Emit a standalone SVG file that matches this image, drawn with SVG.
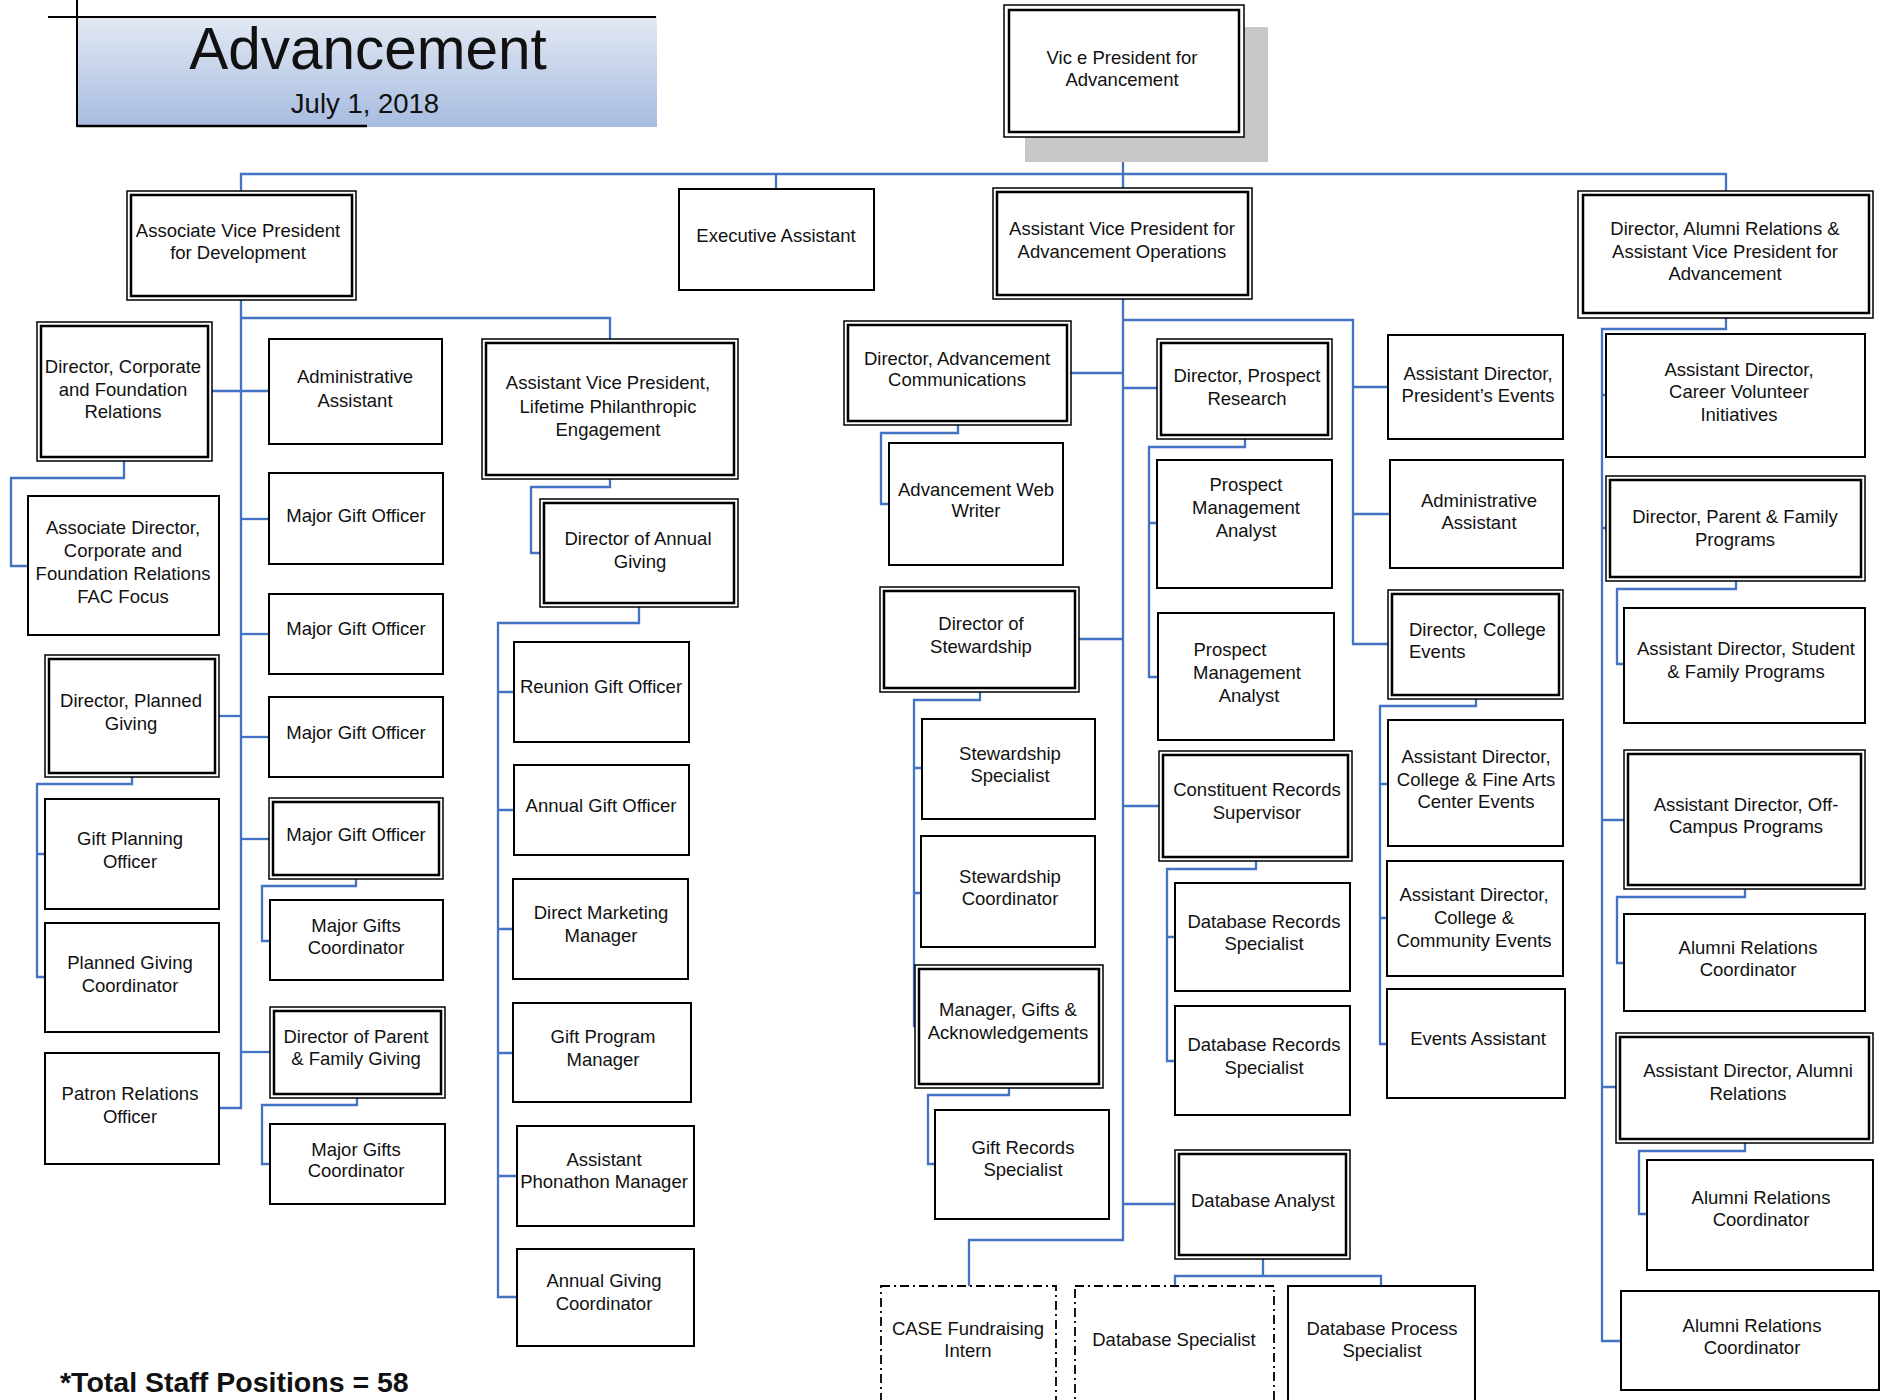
<svg xmlns="http://www.w3.org/2000/svg" width="1887" height="1400" viewBox="0 0 1887 1400">
<defs>
<linearGradient id="tg" x1="0" y1="0" x2="0" y2="1">
<stop offset="0" stop-color="#e3e9f4"/>
<stop offset="1" stop-color="#a7bce0"/>
</linearGradient>
</defs>
<style>
.b{fill:#fff;stroke:#000;stroke-width:2}
.o{fill:#fff;stroke:#000;stroke-width:1.5}
.i{fill:none;stroke:#000;stroke-width:2.5}
.d{fill:#fff;stroke:#000;stroke-width:1.8;stroke-dasharray:9 4 2 4}
.c path{fill:none;stroke:#4472c4;stroke-width:2.3}
text{font-family:"Liberation Sans",Arial,sans-serif;font-size:18.5px;fill:#111;text-anchor:middle}
.s{text-anchor:start}
</style>
<rect width="1887" height="1400" fill="#fff"/>
<g id="title">
<rect x="77" y="17" width="580" height="110" fill="url(#tg)"/>
<line x1="48" y1="17" x2="656" y2="17" stroke="#000" stroke-width="2"/>
<line x1="77" y1="0" x2="77" y2="127" stroke="#000" stroke-width="2"/>
<line x1="77" y1="126" x2="367" y2="126" stroke="#000" stroke-width="2.5"/>
<text x="368" y="69" style="font-size:58.5px">Advancement</text>
<text x="365" y="113" style="font-size:27.5px">July 1, 2018</text>
</g>
<g class="c" id="connectors">
<path d="M1123,137V174"/>
<path d="M241,191V174H1726V191"/>
<path d="M776,174V189"/>
<path d="M1123,174V188"/>
<path d="M241,300V1108H219"/>
<path d="M241,318H610V339"/>
<path d="M212,391H269"/>
<path d="M241,519H269"/>
<path d="M241,634H269"/>
<path d="M219,716H241"/>
<path d="M241,737H269"/>
<path d="M241,839H269"/>
<path d="M241,1052H270"/>
<path d="M124,461V478H11V566H28"/>
<path d="M132,777V784H37V977H45M37,854H45"/>
<path d="M356,879V886H262V941H270"/>
<path d="M357,1098V1105H262V1164H270"/>
<path d="M610,479V487H531V553H540"/>
<path d="M639,607V623H498V1297H517M498,692H514M498,810H514M498,929H513M498,1053H513M498,1176H517"/>
<path d="M1123,299V1240H969V1286"/>
<path d="M1123,320H1353V644H1388M1353,387H1388M1353,514H1390"/>
<path d="M1071,373H1123"/>
<path d="M1123,388H1157"/>
<path d="M1079,639H1123"/>
<path d="M1123,806H1159"/>
<path d="M1123,1204H1175"/>
<path d="M958,425V433H881V504H889"/>
<path d="M980,692V700H914V1026H915M914,768H922M914,893H921"/>
<path d="M1009,1088V1095H928V1164H935"/>
<path d="M1245,439V447H1149V677H1158M1149,523H1157"/>
<path d="M1256,861V869H1167V1061H1175M1167,937H1175"/>
<path d="M1263,1259V1276M1175,1286V1276H1381V1286"/>
<path d="M1476,699V706H1380V1044H1387M1380,784H1388M1380,918H1387"/>
<path d="M1726,318V329H1602V1341H1621M1602,395H1606M1602,528H1606M1602,820H1624M1602,1087H1616"/>
<path d="M1736,581V589H1617V664H1624"/>
<path d="M1745,889V897H1617V963H1624"/>
<path d="M1745,1143V1151H1639V1214H1647"/>
</g>
<g id="vp">
<rect x="1025" y="27" width="243" height="135" fill="#c8c8c8"/>
<rect class="o" x="1004" y="5" width="240" height="132"/>
<rect class="i" x="1009" y="10" width="230" height="122"/>
<text x="1122" y="64">Vic e President for</text>
<text x="1122" y="86">Advancement</text>
</g>
<g id="avp_dev">
<rect class="o" x="127" y="191" width="229" height="109"/>
<rect class="i" x="131" y="195" width="221" height="101"/>
<text x="238" y="237">Associate Vice President</text>
<text x="238" y="259">for Development</text>
</g>
<g id="exec_asst">
<rect class="b" x="679" y="189" width="195" height="101"/>
<text x="776" y="242">Executive Assistant</text>
</g>
<g id="avp_ops">
<rect class="o" x="993" y="188" width="259" height="111"/>
<rect class="i" x="997" y="192" width="251" height="103"/>
<text x="1122" y="235">Assistant Vice President for</text>
<text x="1122" y="258">Advancement Operations</text>
</g>
<g id="dir_alumni">
<rect class="o" x="1578" y="191" width="295" height="127"/>
<rect class="i" x="1583" y="195" width="286" height="118"/>
<text x="1725" y="235">Director, Alumni Relations &amp;</text>
<text x="1725" y="258">Assistant Vice President for</text>
<text x="1725" y="280">Advancement</text>
</g>
<g id="dir_corp">
<rect class="o" x="37" y="322" width="175" height="139"/>
<rect class="i" x="41" y="326" width="167" height="131"/>
<text x="123" y="373">Director, Corporate</text>
<text x="123" y="396">and Foundation</text>
<text x="123" y="418">Relations</text>
</g>
<g id="assoc_dir">
<rect class="b" x="28" y="496" width="191" height="139"/>
<text x="123" y="534">Associate Director,</text>
<text x="123" y="557">Corporate and</text>
<text x="123" y="580">Foundation Relations</text>
<text x="123" y="603">FAC Focus</text>
</g>
<g id="admin_dev">
<rect class="b" x="269" y="339" width="173" height="105"/>
<text x="355" y="383">Administrative</text>
<text x="355" y="407">Assistant</text>
</g>
<g id="mgo1">
<rect class="b" x="269" y="473" width="174" height="91"/>
<text x="356" y="522">Major Gift Officer</text>
</g>
<g id="mgo2">
<rect class="b" x="269" y="594" width="174" height="80"/>
<text x="356" y="635">Major Gift Officer</text>
</g>
<g id="mgo3">
<rect class="b" x="269" y="697" width="174" height="80"/>
<text x="356" y="739">Major Gift Officer</text>
</g>
<g id="dir_planned">
<rect class="o" x="45" y="655" width="174" height="122"/>
<rect class="i" x="49" y="659" width="166" height="114"/>
<text x="131" y="707">Director, Planned</text>
<text x="131" y="730">Giving</text>
</g>
<g id="gift_planning">
<rect class="b" x="45" y="799" width="174" height="110"/>
<text x="130" y="845">Gift Planning</text>
<text x="130" y="868">Officer</text>
</g>
<g id="pg_coord">
<rect class="b" x="45" y="923" width="174" height="109"/>
<text x="130" y="969">Planned Giving</text>
<text x="130" y="992">Coordinator</text>
</g>
<g id="patron">
<rect class="b" x="45" y="1053" width="174" height="111"/>
<text x="130" y="1100">Patron Relations</text>
<text x="130" y="1123">Officer</text>
</g>
<g id="mgo4">
<rect class="o" x="269" y="798" width="174" height="81"/>
<rect class="i" x="273" y="802" width="166" height="73"/>
<text x="356" y="841">Major Gift Officer</text>
</g>
<g id="mgc1">
<rect class="b" x="270" y="900" width="173" height="80"/>
<text x="356" y="932">Major Gifts</text>
<text x="356" y="954">Coordinator</text>
</g>
<g id="dir_parent_giving">
<rect class="o" x="270" y="1007" width="175" height="91"/>
<rect class="i" x="274" y="1011" width="167" height="83"/>
<text x="356" y="1043">Director of Parent</text>
<text x="356" y="1065">&amp; Family Giving</text>
</g>
<g id="mgc2">
<rect class="b" x="270" y="1124" width="175" height="80"/>
<text x="356" y="1156">Major Gifts</text>
<text x="356" y="1177">Coordinator</text>
</g>
<g id="avp_lifetime">
<rect class="o" x="482" y="339" width="256" height="140"/>
<rect class="i" x="486" y="343" width="248" height="132"/>
<text x="608" y="389">Assistant Vice President,</text>
<text x="608" y="413">Lifetime Philanthropic</text>
<text x="608" y="436">Engagement</text>
</g>
<g id="dir_annual">
<rect class="o" x="540" y="499" width="198" height="108"/>
<rect class="i" x="544" y="503" width="190" height="100"/>
<text x="638" y="545">Director of Annual</text>
<text x="640" y="568">Giving</text>
</g>
<g id="reunion">
<rect class="b" x="514" y="642" width="175" height="100"/>
<text x="601" y="693">Reunion Gift Officer</text>
</g>
<g id="annual_gift">
<rect class="b" x="514" y="765" width="175" height="90"/>
<text x="601" y="812">Annual Gift Officer</text>
</g>
<g id="direct_mkt">
<rect class="b" x="513" y="879" width="175" height="100"/>
<text x="601" y="919">Direct Marketing</text>
<text x="601" y="942">Manager</text>
</g>
<g id="gift_prog">
<rect class="b" x="513" y="1003" width="178" height="99"/>
<text x="603" y="1043">Gift Program</text>
<text x="603" y="1066">Manager</text>
</g>
<g id="phonathon">
<rect class="b" x="517" y="1126" width="177" height="100"/>
<text x="604" y="1166">Assistant</text>
<text x="604" y="1188">Phonathon Manager</text>
</g>
<g id="ag_coord">
<rect class="b" x="517" y="1249" width="177" height="97"/>
<text x="604" y="1287">Annual Giving</text>
<text x="604" y="1310">Coordinator</text>
</g>
<g id="dir_adv_comm">
<rect class="o" x="844" y="321" width="227" height="104"/>
<rect class="i" x="848" y="325" width="219" height="96"/>
<text x="957" y="365">Director, Advancement</text>
<text x="957" y="386">Communications</text>
</g>
<g id="web_writer">
<rect class="b" x="889" y="443" width="174" height="122"/>
<text x="976" y="496">Advancement Web</text>
<text x="976" y="517">Writer</text>
</g>
<g id="dir_stew">
<rect class="o" x="880" y="587" width="199" height="105"/>
<rect class="i" x="884" y="591" width="191" height="97"/>
<text x="981" y="630">Director of</text>
<text x="981" y="653">Stewardship</text>
</g>
<g id="stew_spec">
<rect class="b" x="922" y="719" width="173" height="100"/>
<text x="1010" y="760">Stewardship</text>
<text x="1010" y="782">Specialist</text>
</g>
<g id="stew_coord">
<rect class="b" x="921" y="836" width="174" height="111"/>
<text x="1010" y="883">Stewardship</text>
<text x="1010" y="905">Coordinator</text>
</g>
<g id="mgr_gifts">
<rect class="o" x="915" y="965" width="188" height="123"/>
<rect class="i" x="919" y="969" width="180" height="115"/>
<text x="1008" y="1016">Manager, Gifts &amp;</text>
<text x="1008" y="1039">Acknowledgements</text>
</g>
<g id="gift_records">
<rect class="b" x="935" y="1110" width="174" height="109"/>
<text x="1023" y="1154">Gift Records</text>
<text x="1023" y="1176">Specialist</text>
</g>
<g id="case_intern">
<rect class="d" x="881" y="1286" width="175" height="130"/>
<text x="968" y="1335">CASE Fundraising</text>
<text x="968" y="1357">Intern</text>
</g>
<g id="dir_prospect">
<rect class="o" x="1157" y="339" width="175" height="100"/>
<rect class="i" x="1161" y="343" width="167" height="92"/>
<text x="1247" y="382">Director, Prospect</text>
<text x="1247" y="405">Research</text>
</g>
<g id="pma1">
<rect class="b" x="1157" y="460" width="175" height="128"/>
<text x="1246" y="491">Prospect</text>
<text x="1246" y="514">Management</text>
<text x="1246" y="537">Analyst</text>
</g>
<g id="pma2">
<rect class="b" x="1158" y="613" width="176" height="127"/>
<text x="1230" y="656">Prospect</text>
<text x="1247" y="679">Management</text>
<text x="1249" y="702">Analyst</text>
</g>
<g id="crs">
<rect class="o" x="1159" y="751" width="193" height="110"/>
<rect class="i" x="1163" y="755" width="185" height="102"/>
<text x="1257" y="796">Constituent Records</text>
<text x="1257" y="819">Supervisor</text>
</g>
<g id="dbrs1">
<rect class="b" x="1175" y="883" width="175" height="108"/>
<text x="1264" y="928">Database Records</text>
<text x="1264" y="950">Specialist</text>
</g>
<g id="dbrs2">
<rect class="b" x="1175" y="1006" width="175" height="109"/>
<text x="1264" y="1051">Database Records</text>
<text x="1264" y="1074">Specialist</text>
</g>
<g id="db_analyst">
<rect class="o" x="1175" y="1150" width="175" height="109"/>
<rect class="i" x="1179" y="1154" width="167" height="101"/>
<text x="1263" y="1207">Database Analyst</text>
</g>
<g id="db_spec">
<rect class="d" x="1075" y="1286" width="199" height="130"/>
<text x="1174" y="1346">Database Specialist</text>
</g>
<g id="db_process">
<rect class="b" x="1288" y="1286" width="187" height="130"/>
<text x="1382" y="1335">Database Process</text>
<text x="1382" y="1357">Specialist</text>
</g>
<g id="pres_events">
<rect class="b" x="1388" y="335" width="175" height="104"/>
<text x="1478" y="380">Assistant Director,</text>
<text x="1478" y="402">President’s Events</text>
</g>
<g id="admin_ev">
<rect class="b" x="1390" y="460" width="173" height="108"/>
<text x="1479" y="507">Administrative</text>
<text x="1479" y="529">Assistant</text>
</g>
<g id="dir_college">
<rect class="o" x="1388" y="590" width="175" height="109"/>
<rect class="i" x="1392" y="594" width="167" height="101"/>
<text class="s" x="1409" y="636">Director, College</text>
<text class="s" x="1409" y="658">Events</text>
</g>
<g id="college_fa">
<rect class="b" x="1388" y="720" width="175" height="126"/>
<text x="1476" y="763">Assistant Director,</text>
<text x="1476" y="786">College &amp; Fine Arts</text>
<text x="1476" y="808">Center Events</text>
</g>
<g id="college_comm">
<rect class="b" x="1387" y="861" width="176" height="115"/>
<text x="1474" y="901">Assistant Director,</text>
<text x="1474" y="924">College &amp;</text>
<text x="1474" y="947">Community Events</text>
</g>
<g id="events_asst">
<rect class="b" x="1387" y="989" width="178" height="109"/>
<text x="1478" y="1045">Events Assistant</text>
</g>
<g id="career_vol">
<rect class="b" x="1606" y="334" width="259" height="123"/>
<text x="1739" y="376">Assistant Director,</text>
<text x="1739" y="398">Career Volunteer</text>
<text x="1739" y="421">Initiatives</text>
</g>
<g id="dir_pf">
<rect class="o" x="1606" y="476" width="259" height="105"/>
<rect class="i" x="1610" y="480" width="251" height="97"/>
<text x="1735" y="523">Director, Parent &amp; Family</text>
<text x="1735" y="546">Programs</text>
</g>
<g id="student_fam">
<rect class="b" x="1624" y="608" width="241" height="115"/>
<text x="1746" y="655">Assistant Director, Student</text>
<text x="1746" y="678">&amp; Family Programs</text>
</g>
<g id="off_campus">
<rect class="o" x="1624" y="750" width="241" height="139"/>
<rect class="i" x="1628" y="754" width="233" height="131"/>
<text x="1746" y="811">Assistant Director, Off-</text>
<text x="1746" y="833">Campus Programs</text>
</g>
<g id="arc1">
<rect class="b" x="1624" y="914" width="241" height="97"/>
<text x="1748" y="954">Alumni Relations</text>
<text x="1748" y="976">Coordinator</text>
</g>
<g id="ad_alumni">
<rect class="o" x="1616" y="1033" width="257" height="110"/>
<rect class="i" x="1620" y="1037" width="249" height="102"/>
<text x="1748" y="1077">Assistant Director, Alumni</text>
<text x="1748" y="1100">Relations</text>
</g>
<g id="arc2">
<rect class="b" x="1647" y="1160" width="226" height="110"/>
<text x="1761" y="1204">Alumni Relations</text>
<text x="1761" y="1226">Coordinator</text>
</g>
<g id="arc3">
<rect class="b" x="1621" y="1291" width="258" height="99"/>
<text x="1752" y="1332">Alumni Relations</text>
<text x="1752" y="1354">Coordinator</text>
</g>
<g id="total">
<text class="s" x="60" y="1392" style="font-size:28.5px;font-weight:bold">*Total Staff Positions = 58</text>
</g>
</svg>
